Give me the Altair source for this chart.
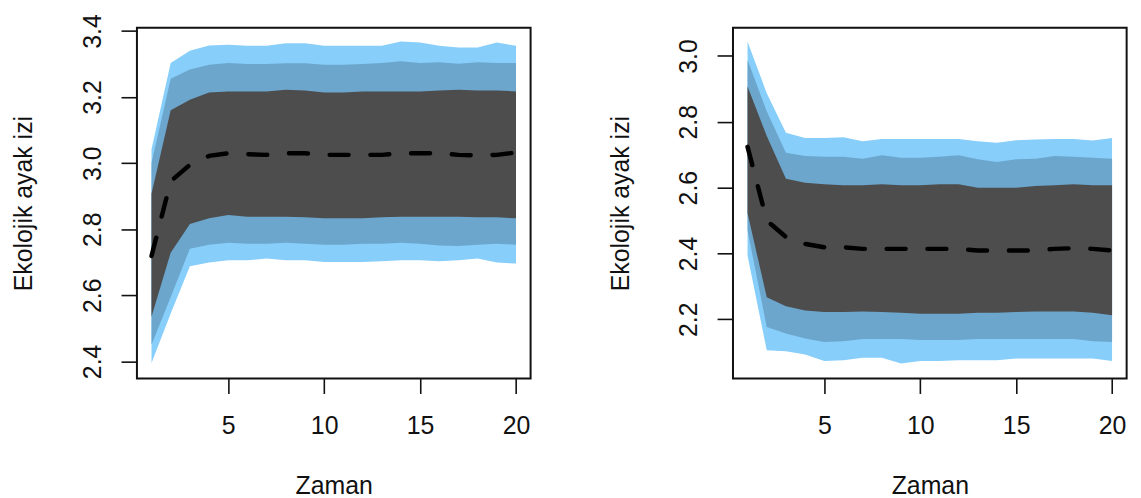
import altair as alt
import pandas as pd

x = list(range(1, 21))

left_u3 = [3.042, 3.303, 3.340, 3.356, 3.358, 3.355, 3.355, 3.363, 3.363, 3.355, 3.355, 3.355, 3.355, 3.368, 3.365, 3.355, 3.350, 3.350, 3.365, 3.355]
left_u2 = [3.000, 3.255, 3.283, 3.298, 3.303, 3.300, 3.300, 3.302, 3.302, 3.298, 3.298, 3.300, 3.303, 3.308, 3.303, 3.305, 3.301, 3.305, 3.303, 3.303]
left_u1 = [2.907, 3.160, 3.192, 3.214, 3.217, 3.217, 3.217, 3.222, 3.220, 3.214, 3.214, 3.217, 3.217, 3.217, 3.217, 3.220, 3.222, 3.220, 3.220, 3.217]
left_med = [2.719, 2.945, 2.995, 3.022, 3.030, 3.027, 3.025, 3.030, 3.030, 3.025, 3.025, 3.025, 3.025, 3.030, 3.030, 3.030, 3.025, 3.023, 3.025, 3.032]
left_l1 = [2.535, 2.729, 2.816, 2.833, 2.843, 2.838, 2.838, 2.838, 2.836, 2.833, 2.833, 2.833, 2.836, 2.838, 2.838, 2.838, 2.838, 2.836, 2.836, 2.833]
left_l2 = [2.450, 2.595, 2.741, 2.753, 2.759, 2.756, 2.756, 2.759, 2.756, 2.753, 2.753, 2.756, 2.756, 2.759, 2.756, 2.751, 2.749, 2.753, 2.756, 2.753]
left_l3 = [2.395, 2.545, 2.688, 2.699, 2.706, 2.706, 2.711, 2.706, 2.706, 2.701, 2.701, 2.701, 2.703, 2.706, 2.706, 2.703, 2.706, 2.711, 2.699, 2.696]

right_u3 = [3.043, 2.887, 2.767, 2.751, 2.751, 2.753, 2.741, 2.748, 2.748, 2.748, 2.748, 2.748, 2.741, 2.736, 2.744, 2.746, 2.748, 2.748, 2.743, 2.751]
right_u2 = [2.988, 2.832, 2.706, 2.696, 2.694, 2.694, 2.688, 2.698, 2.691, 2.691, 2.694, 2.698, 2.686, 2.678, 2.686, 2.688, 2.696, 2.694, 2.691, 2.688]
right_u1 = [2.907, 2.757, 2.627, 2.615, 2.610, 2.607, 2.607, 2.610, 2.607, 2.607, 2.610, 2.610, 2.600, 2.600, 2.600, 2.605, 2.607, 2.610, 2.607, 2.607]
right_med = [2.724, 2.500, 2.450, 2.429, 2.419, 2.419, 2.414, 2.414, 2.414, 2.414, 2.414, 2.414, 2.409, 2.409, 2.409, 2.409, 2.414, 2.416, 2.414, 2.409]
right_l1 = [2.522, 2.267, 2.240, 2.227, 2.222, 2.222, 2.224, 2.222, 2.220, 2.217, 2.217, 2.217, 2.220, 2.220, 2.222, 2.224, 2.224, 2.224, 2.220, 2.212]
right_l2 = [2.470, 2.177, 2.157, 2.142, 2.131, 2.133, 2.140, 2.140, 2.140, 2.137, 2.137, 2.137, 2.140, 2.140, 2.140, 2.140, 2.140, 2.140, 2.133, 2.131]
right_l3 = [2.393, 2.106, 2.103, 2.093, 2.073, 2.076, 2.083, 2.083, 2.066, 2.073, 2.073, 2.076, 2.076, 2.076, 2.081, 2.081, 2.081, 2.081, 2.081, 2.073]

x_ticks = [5, 10, 15, 20]
left_y_ticks = [2.4, 2.6, 2.8, 3.0, 3.2, 3.4]
right_y_ticks = [2.2, 2.4, 2.6, 2.8, 3.0]
x_title = "Zaman"
y_title = "Ekolojik ayak izi"

LIGHT = "#87CEFA"
MID = "#6CA6CD"
DARK = "#4D4D4D"
FONT = "Liberation Sans"
W, H = 396, 353


def panel(u3, u2, u1, med, l1, l2, l3, ydom, yticks):
    df = pd.DataFrame({"x": x, "u3": u3, "u2": u2, "u1": u1, "med": med,
                       "l1": l1, "l2": l2, "l3": l3})
    base = alt.Chart(df)
    xs = alt.Scale(domain=[0.24, 20.76], nice=False, zero=False)
    ys = alt.Scale(domain=ydom, nice=False, zero=False)
    xaxis = alt.Axis(values=x_ticks, format="d", title=x_title, grid=False, domain=False,
                     tickSize=15, tickWidth=1.6, tickColor="#111",
                     labelFont=FONT, labelFontSize=25, labelColor="#111",
                     labelPadding=40, labelBaseline="alphabetic", labelFlush=False,
                     labelOverlap=False,
                     titleFont=FONT, titleFontSize=25, titleFontWeight="normal",
                     titleColor="#111", titleX=W / 2, titleY=115.6,
                     titleBaseline="alphabetic", titleAlign="center")
    yaxis = alt.Axis(values=yticks, format=".1f", title=y_title, grid=False, domain=False,
                     tickSize=16, tickWidth=1.6, tickColor="#111",
                     labelFont=FONT, labelFontSize=25, labelColor="#111",
                     labelAngle=270, labelAlign="center", labelBaseline="alphabetic",
                     labelPadding=21, labelFlush=False, labelOverlap=False,
                     titleFont=FONT, titleFontSize=25, titleFontWeight="normal",
                     titleColor="#111", titleAngle=270, titleX=-105.6, titleY=H / 2,
                     titleBaseline="alphabetic", titleAlign="center")
    X = alt.X("x:Q", scale=xs, axis=xaxis)
    outer = base.mark_area(color=LIGHT, opacity=1).encode(
        x=X, y=alt.Y("u3:Q", scale=ys, axis=yaxis), y2="l3:Q")
    middle = base.mark_area(color=MID, opacity=1).encode(
        x=X, y=alt.Y("u2:Q", scale=ys, axis=yaxis), y2="l2:Q")
    inner = base.mark_area(color=DARK, opacity=1).encode(
        x=X, y=alt.Y("u1:Q", scale=ys, axis=yaxis), y2="l1:Q")
    line = base.mark_line(color="black", strokeWidth=4.5, strokeDash=[19, 22],
                          strokeCap="round").encode(
        x=X, y=alt.Y("med:Q", scale=ys, axis=yaxis))
    return alt.layer(outer, middle, inner, line).properties(width=W, height=H)


left = panel(left_u3, left_u2, left_u1, left_med, left_l1, left_l2, left_l3,
             [2.348, 3.410], left_y_ticks)
right = panel(right_u3, right_u2, right_u1, right_med, right_l1, right_l2, right_l3,
              [2.020, 3.086], right_y_ticks)

chart = alt.hconcat(left, right, spacing=203.6, bounds="flush").properties(
    padding={"left": 2.7, "top": 2.3, "right": 5, "bottom": 0},
    background="white",
).configure_view(stroke="#111", strokeWidth=2)

chart.save("out.html", embed_options={"renderer": "svg", "actions": False})
